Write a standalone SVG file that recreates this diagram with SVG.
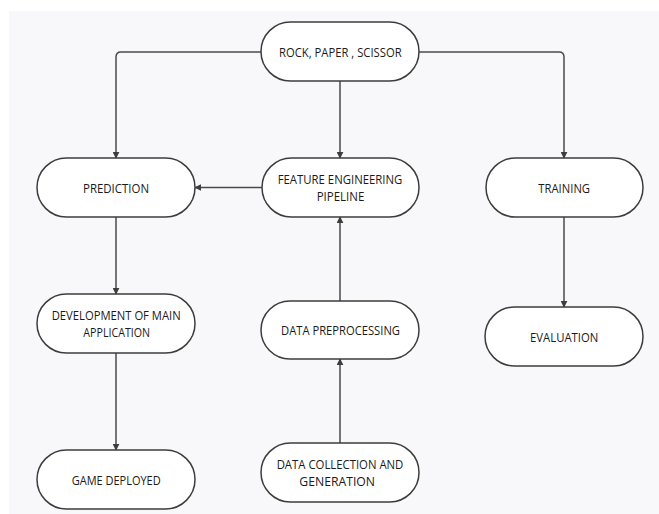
<svg xmlns="http://www.w3.org/2000/svg" width="659" height="514" viewBox="0 0 659 514">
<defs>
<style>
.node rect{fill:#fff;stroke:#3d3d3d;stroke-width:1.5}
.node text{font-family:"Open Sans","Noto Sans","DejaVu Sans",sans-serif;font-size:13px;font-weight:500;fill:#1a1a1a;text-anchor:middle;dominant-baseline:central}
.node text.two{font-size:12px}
.edge{fill:none;stroke:#4a4a4a;stroke-width:1.5;marker-end:url(#arr)}
</style>
<marker id="arr" viewBox="0 0 10 10" refX="9" refY="5" markerWidth="7" markerHeight="7" markerUnits="userSpaceOnUse" orient="auto">
<path d="M0,0 L10,5 L0,10 z" fill="#3d3d3d"/>
</marker>
</defs>
<rect x="0" y="0" width="659" height="514" fill="#fff"/>
<rect x="9" y="11" width="650" height="503" fill="#f8f8fa"/>
<g id="connectors">
<path class="edge" d="M261,52 H121 Q116,52 116,57 V158"/>
<path class="edge" d="M419,52 H559 Q564,52 564,57 V158"/>
<path class="edge" d="M340,81 V158"/>
<path class="edge" d="M262,187.5 H195"/>
<path class="edge" d="M116,217 V294"/>
<path class="edge" d="M116,353 V450"/>
<path class="edge" d="M340,301 V217"/>
<path class="edge" d="M340,443 V359"/>
<path class="edge" d="M564,217 V307"/>
</g>
<g id="rock" class="node"><rect x="261" y="22" width="158" height="59" rx="29.5"/><text x="340.3" y="52" textLength="122.7" lengthAdjust="spacingAndGlyphs">ROCK, PAPER , SCISSOR</text></g>
<g id="prediction" class="node"><rect x="37" y="158" width="158" height="59" rx="29.5"/><text x="116" y="188" textLength="66" lengthAdjust="spacingAndGlyphs">PREDICTION</text></g>
<g id="feature" class="node"><rect x="262" y="158" width="157" height="59" rx="29.5"/><text class="two" x="340" y="179.5" textLength="124.7" lengthAdjust="spacingAndGlyphs">FEATURE ENGINEERING</text><text class="two" x="340.5" y="196.5" textLength="47.7" lengthAdjust="spacingAndGlyphs">PIPELINE</text></g>
<g id="training" class="node"><rect x="486" y="158" width="157" height="59" rx="29.5"/><text x="564.2" y="188" textLength="51.7" lengthAdjust="spacingAndGlyphs">TRAINING</text></g>
<g id="development" class="node"><rect x="37" y="294" width="158" height="59" rx="29.5"/><text class="two" x="116.2" y="315.5" textLength="129" lengthAdjust="spacingAndGlyphs">DEVELOPMENT OF MAIN</text><text class="two" x="116.7" y="332.5" textLength="66.7" lengthAdjust="spacingAndGlyphs">APPLICATION</text></g>
<g id="preprocessing" class="node"><rect x="261" y="301" width="158" height="58" rx="29"/><text x="340.5" y="330.3" textLength="119" lengthAdjust="spacingAndGlyphs">DATA PREPROCESSING</text></g>
<g id="evaluation" class="node"><rect x="485" y="307" width="158" height="59" rx="29.5"/><text x="564.2" y="337.3" textLength="68.3" lengthAdjust="spacingAndGlyphs">EVALUATION</text></g>
<g id="game" class="node"><rect x="37" y="450" width="158" height="59" rx="29.5"/><text x="116.2" y="480" textLength="89" lengthAdjust="spacingAndGlyphs">GAME DEPLOYED</text></g>
<g id="collection" class="node"><rect x="261" y="443" width="158" height="59" rx="29.5"/><text class="two" x="340" y="464.5" textLength="126.7" lengthAdjust="spacingAndGlyphs">DATA COLLECTION AND</text><text class="two" x="337.2" y="481.5" textLength="75.7" lengthAdjust="spacingAndGlyphs">GENERATION</text></g>
</svg>
